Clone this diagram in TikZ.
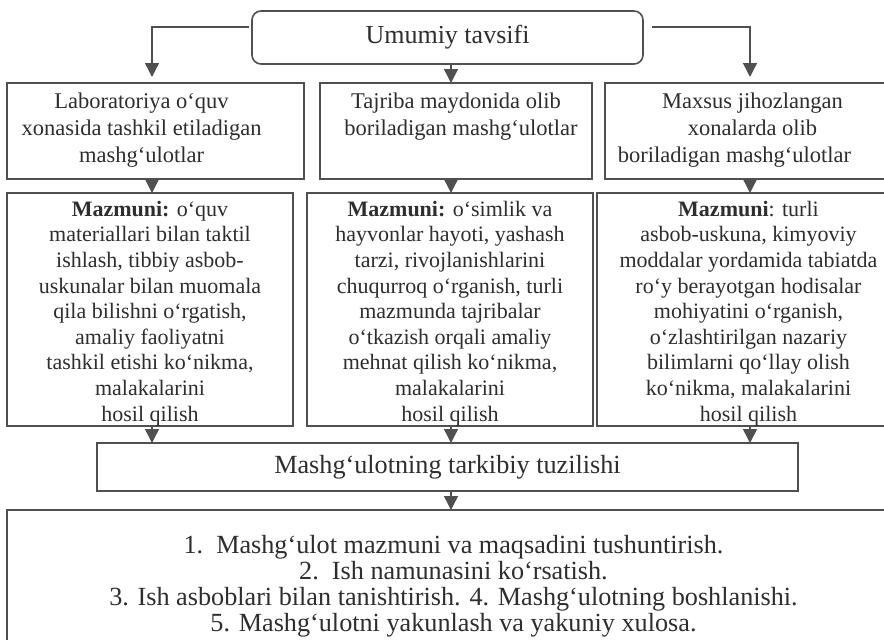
\documentclass[tikz,border=0pt]{standalone}
\usepackage{fontspec}
\setmainfont{Liberation Serif}
\usetikzlibrary{arrows.meta}
\definecolor{framegray}{HTML}{505050}
\definecolor{inkgray}{HTML}{2E2E2E}
% boxes with the text pinned to their top edge
\newcommand{\boxtext}[4]{\parbox[c][#1][t]{#2}{\centering\vspace*{#3}#4}}
\tikzset{
  frame/.style={draw=framegray,line width=1.6pt,inner sep=0pt,outer sep=0pt,
    anchor=north west,text=inkgray},
  link/.style={draw=framegray,line width=1.4pt,
    -{Triangle[width=14pt,length=14pt]}},
  headfont/.style={font=\fontsize{26}{30}\selectfont},
  kindfont/.style={font=\fontsize{22.5}{27}\selectfont},
  sensefont/.style={font=\fontsize{22}{25.6}\selectfont},
  stepfont/.style={font=\fontsize{26.2}{26}\selectfont}
}
\begin{document}
\begin{tikzpicture}[x=1pt,y=-1pt]
\useasboundingbox[fill=white] (0,0) rectangle (884,640);
% columns of the arrows
\coordinate (lx) at (152,0);
\coordinate (mx) at (451,0);
\coordinate (rx) at (750,0);
% top
\node[frame,rounded corners=9pt,minimum width=391pt,minimum height=53pt,headfont]
  (general) at (252,11) {Umumiy tavsifi};
% kinds of lessons
\node[frame,minimum width=297pt,minimum height=96pt,kindfont] (labkind) at (7,83)
  {\boxtext{96pt}{297pt}{10pt}{\hspace*{-28pt}Laboratoriya o‘quv\\\hspace*{-28pt}xonasida tashkil etiladigan\\\hspace*{-28pt}mashg‘ulotlar}};
\node[frame,minimum width=272pt,minimum height=96pt,kindfont] (fieldkind) at (320,83)
  {\boxtext{96pt}{272pt}{10pt}{Tajriba maydonida olib\hspace*{12pt}\\\hspace*{10pt}boriladigan mashg‘ulotlar}};
\node[frame,minimum width=295pt,minimum height=96pt,kindfont] (roomkind) at (605,83)
  {\boxtext{96pt}{280pt}{10pt}{Maxsus jihozlangan\\xonalarda olib\\boriladigan mashg‘ulotlar\hspace*{36pt}}};
% contents
\node[frame,minimum width=286pt,minimum height=233pt,sensefont] (labsense) at (7,193)
  {\boxtext{233pt}{286pt}{8pt}{\textbf{Mazmuni:} o‘quv\\materiallari bilan taktil\\ishlash, tibbiy asbob-\\uskunalar bilan muomala\\qila bilishni o‘rgatish,\\amaliy faoliyatni\\tashkil etishi ko‘nikma,\\malakalarini\\hosil qilish}};
\node[frame,minimum width=286pt,minimum height=233pt,sensefont] (fieldsense) at (307,193)
  {\boxtext{233pt}{286pt}{8pt}{\textbf{Mazmuni:} o‘simlik va\\hayvonlar hayoti, yashash\\tarzi, rivojlanishlarini\\chuqurroq o‘rganish, turli\\mazmunda tajribalar\\o‘tkazish orqali amaliy\\mehnat qilish ko‘nikma,\\malakalarini\\hosil qilish}};
\node[frame,minimum width=303pt,minimum height=233pt,sensefont] (roomsense) at (597,193)
  {\boxtext{233pt}{287pt}{8pt}{\textbf{Mazmuni}: turli\\asbob-uskuna, kimyoviy\\moddalar yordamida tabiatda\\ro‘y berayotgan hodisalar\\mohiyatini o‘rganish,\\o‘zlashtirilgan nazariy\\bilimlarni qo‘llay olish\\ko‘nikma, malakalarini\\hosil qilish}};
% structure
\node[frame,minimum width=701pt,minimum height=48pt,stepfont] (structure) at (97,443)
  {Mashg‘ulotning tarkibiy tuzilishi};
\node[frame,minimum width=893pt,minimum height=150pt,stepfont] (steps) at (7,510)
  {\boxtext{150pt}{886pt}{25pt}{1.\ \ Mashg‘ulot mazmuni va maqsadini tushuntirish.\\
   2.\ \ Ish namunasini ko‘rsatish.\\
   3. Ish asboblari bilan tanishtirish. 4. Mashg‘ulotning boshlanishi.\\
   5. Mashg‘ulotni yakunlash va yakuniy xulosa.}};
% arrows
\draw[link] ([xshift=-3pt]general.west |- 0,27) -| ([yshift=6pt]labkind.north -| lx);
\draw[link] ([xshift=9pt]general.east |- 0,27) -| ([yshift=6pt]roomkind.north -| rx);
\draw[link] (general.south -| mx) -- (fieldkind.north -| mx);
\draw[link] (labkind.south -| lx) -- (labsense.north -| lx);
\draw[link] (fieldkind.south -| mx) -- (fieldsense.north -| mx);
\draw[link] (roomkind.south -| rx) -- (roomsense.north -| rx);
\draw[link] (labsense.south -| lx) -- (structure.north -| lx);
\draw[link] (fieldsense.south -| mx) -- (structure.north -| mx);
\draw[link] (roomsense.south -| rx) -- (structure.north -| rx);
\draw[link] (structure.south -| mx) -- (steps.north -| mx);
\end{tikzpicture}
\end{document}
